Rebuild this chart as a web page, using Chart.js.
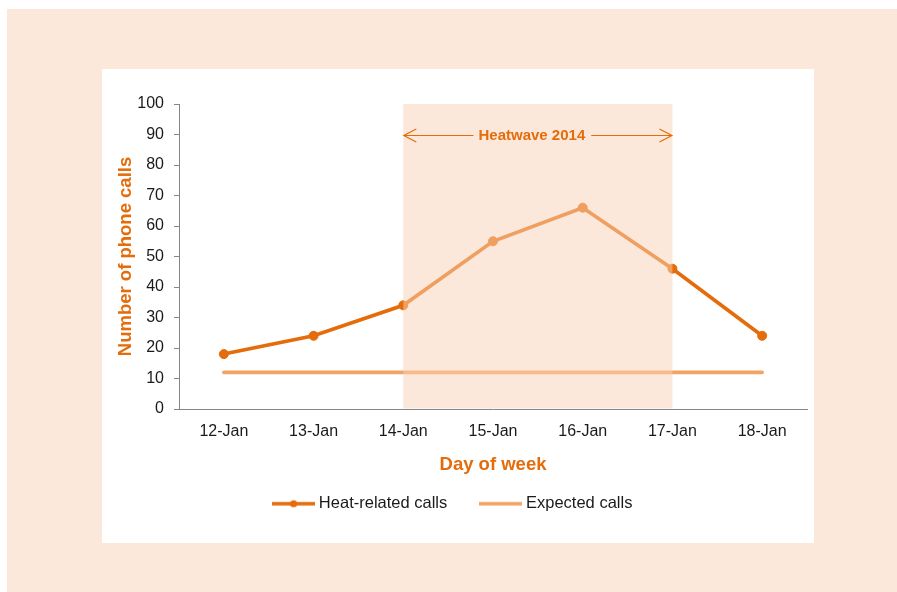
<!DOCTYPE html>
<html>
<head>
<meta charset="utf-8">
<script src="https://cdn.jsdelivr.net/npm/chart.js@4/dist/chart.umd.min.js"></script>
<style>
  html, body { margin: 0; padding: 0; background: #ffffff; }
  #wrap { width: 897px; height: 592px; }
</style>
</head>
<body>
<div id="wrap"><canvas id="calls" width="897" height="592"></canvas></div>
<script>
// Daily phone calls, 12-18 January
const days = ['12-Jan', '13-Jan', '14-Jan', '15-Jan', '16-Jan', '17-Jan', '18-Jan'];
const heatRelatedCalls = [18, 24, 34, 55, 66, 46, 24];
const expectedCalls = [12, 12, 12, 12, 12, 12, 12];

// Value axis range
const yMin = 0;
const yMax = 100;
const yStep = 10;

// Heatwave period shaded on the plot
const heatwaveFrom = '14-Jan';
const heatwaveTo = '17-Jan';
const heatwaveTitle = 'Heatwave 2014';
const heatwaveTitleAt = 90;

const FONT = "'Liberation Sans', Arial, Helvetica, sans-serif";
const DARK_ORANGE = '#E46C0A';
const LIGHT_ORANGE = '#F2A365';
const AXIS_GREY = '#868686';
const TEXT = '#1a1a1a';

// Small line swatches used as legend symbols
function swatch(color, withDot) {
  const c = document.createElement('canvas');
  c.width = 43; c.height = 12;
  const g = c.getContext('2d');
  g.strokeStyle = color;
  g.lineWidth = 3.3;
  g.beginPath(); g.moveTo(0, 6); g.lineTo(43, 6); g.stroke();
  if (withDot) {
    g.fillStyle = color;
    g.beginPath(); g.arc(21.5, 6, 3.6, 0, Math.PI * 2); g.fill();
  }
  return c;
}
const swatches = [swatch(DARK_ORANGE, true), swatch(LIGHT_ORANGE, false)];

// Page panels behind the chart
const panels = {
  id: 'panels',
  beforeDraw(chart) {
    const ctx = chart.ctx;
    ctx.save();
    ctx.fillStyle = '#ffffff';
    ctx.fillRect(0, 0, chart.width, chart.height);
    ctx.fillStyle = '#FCE8DA';
    ctx.fillRect(7, 9, chart.width - 7, chart.height - 9);
    ctx.fillStyle = '#ffffff';
    ctx.fillRect(102, 69, 712, 474);
    ctx.restore();
  }
};

// Translucent heatwave band with its double-headed arrow label
const heatwaveBand = {
  id: 'heatwaveBand',
  afterDatasetsDraw(chart) {
    const {ctx, scales: {x, y}} = chart;
    const x0 = x.getPixelForValue(days.indexOf(heatwaveFrom));
    const x1 = x.getPixelForValue(days.indexOf(heatwaveTo));
    const yTop = y.getPixelForValue(yMax);
    const yBot = y.getPixelForValue(yMin);
    ctx.save();
    ctx.fillStyle = 'rgba(249, 209, 181, 0.5)';
    ctx.fillRect(x0, yTop, x1 - x0, yBot - yTop - 0.5);

    const ya = Math.round(y.getPixelForValue(heatwaveTitleAt)) + 0.5;
    ctx.font = 'bold 15px ' + FONT;
    const tw = ctx.measureText(heatwaveTitle).width;
    const cx = (x0 + x1) / 2 - 6;
    ctx.strokeStyle = DARK_ORANGE;
    ctx.lineWidth = 1.2;
    ctx.beginPath();
    ctx.moveTo(x0, ya); ctx.lineTo(cx - tw / 2 - 5, ya);
    ctx.moveTo(cx + tw / 2 + 6, ya); ctx.lineTo(x1, ya);
    ctx.moveTo(x0 + 13, ya - 6.5); ctx.lineTo(x0 + 0.5, ya); ctx.lineTo(x0 + 13, ya + 6.5);
    ctx.moveTo(x1 - 13, ya - 6.5); ctx.lineTo(x1 - 0.5, ya); ctx.lineTo(x1 - 13, ya + 6.5);
    ctx.stroke();
    ctx.fillStyle = DARK_ORANGE;
    ctx.textAlign = 'center';
    ctx.textBaseline = 'middle';
    ctx.fillText(heatwaveTitle, cx, ya);
    ctx.restore();
  }
};

new Chart(document.getElementById('calls'), {
  type: 'line',
  data: {
    labels: days,
    datasets: [
      {
        label: 'Heat-related calls',
        data: heatRelatedCalls,
        borderColor: DARK_ORANGE,
        backgroundColor: DARK_ORANGE,
        borderWidth: 3.6,
        pointRadius: 4.5,
        pointBorderWidth: 1,
        pointBackgroundColor: DARK_ORANGE,
        pointBorderColor: DARK_ORANGE,
        tension: 0,
        fill: false
      },
      {
        label: 'Expected calls',
        data: expectedCalls,
        borderColor: LIGHT_ORANGE,
        backgroundColor: LIGHT_ORANGE,
        borderWidth: 3.6,
        borderCapStyle: 'round',
        pointRadius: 0,
        tension: 0,
        fill: false
      }
    ]
  },
  options: {
    responsive: false,
    animation: false,
    devicePixelRatio: 1,
    layout: { padding: { left: 102, right: 90, top: 104, bottom: 70 } },
    scales: {
      x: {
        offset: true,
        grid: { display: false, drawTicks: false },
        border: { display: true, color: AXIS_GREY, width: 1 },
        ticks: { color: TEXT, padding: 13, font: { family: FONT, size: 16 }, maxRotation: 0 },
        title: {
          display: true,
          text: 'Day of week',
          color: DARK_ORANGE,
          font: { family: FONT, size: 18.5, weight: 'bold' },
          padding: { top: 0, bottom: -17 }
        },
        afterFit(scale) { scale.height = 50; }
      },
      y: {
        min: yMin,
        max: yMax,
        grid: { display: true, drawOnChartArea: false, drawTicks: true, tickLength: 5, color: AXIS_GREY, lineWidth: 1 },
        border: { display: true, color: AXIS_GREY, width: 1 },
        ticks: { stepSize: yStep, color: TEXT, padding: 10, font: { family: FONT, size: 16 } },
        title: {
          display: true,
          text: 'Number of phone calls',
          color: DARK_ORANGE,
          font: { family: FONT, size: 18.5, weight: 'bold' },
          padding: { top: 12.5, bottom: 0 }
        },
        afterFit(scale) { scale.width = 77; }
      }
    },
    plugins: {
      tooltip: { enabled: false },
      legend: {
        position: 'bottom',
        labels: {
          usePointStyle: true,
          pointStyleWidth: 34,
          padding: 36.5,
          color: TEXT,
          font: { family: FONT, size: 16.5 },
          generateLabels(chart) {
            return chart.data.datasets.map((ds, i) => ({
              text: ds.label,
              pointStyle: swatches[i],
              fillStyle: 'transparent',
              strokeStyle: 'transparent',
              lineWidth: 0,
              fontColor: TEXT,
              hidden: false,
              datasetIndex: i
            }));
          }
        }
      }
    }
  },
  plugins: [panels, heatwaveBand]
});
</script>
</body>
</html>
